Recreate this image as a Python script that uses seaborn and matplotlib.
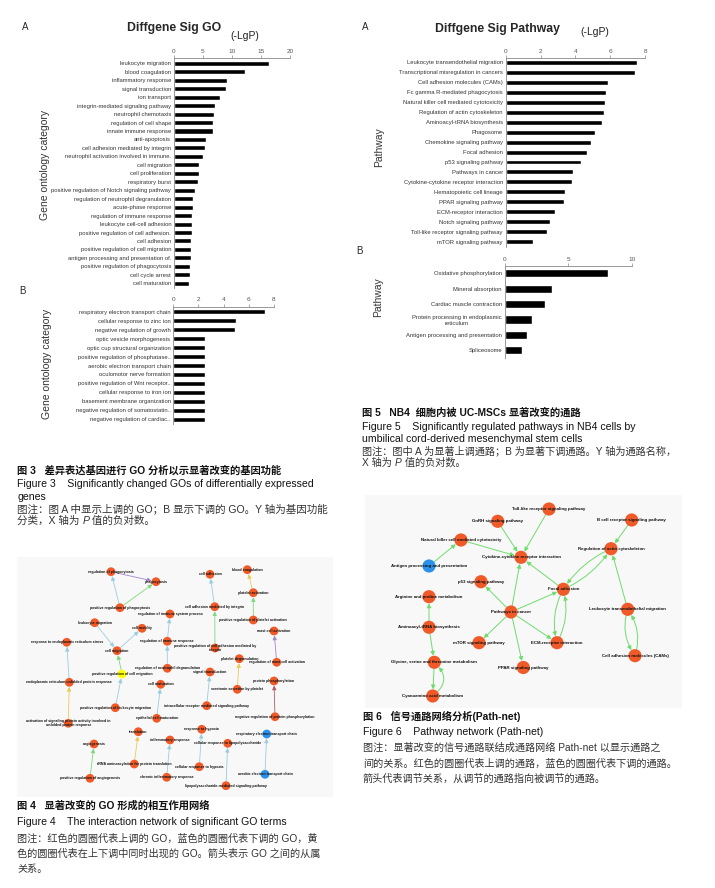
import numpy as np
import pandas as pd
import matplotlib
matplotlib.use("Agg")
import matplotlib.pyplot as plt
import seaborn as sns

# ---------------- data ----------------
go_up_terms = [
    "leukocyte migration", "blood coagulation", "inflammatory response",
    "signal transduction", "ion transport", "integrin-mediated signaling pathway",
    "neutrophil chemotaxis", "regulation of cell shape", "innate immune response",
    "anti-apoptosis", "cell adhesion mediated by integrin",
    "neutrophil activation involved in immune.", "cell migration",
    "cell proliferation", "respiratory burst",
    "positive regulation of Notch signaling pathway",
    "regulation of neutrophil degranulation", "acute-phase response",
    "regulation of immune response", "leukocyte cell-cell adhesion",
    "positive regulation of cell adhesion.", "cell adhesion",
    "positive regulation of cell migration", "antigen processing and presentation of.",
    "positive regulation of phagocytosis", "cell cycle arrest", "cell maturation",
]
go_up_vals = [16.3, 12.2, 9.2, 8.9, 8.0, 7.1, 6.9, 6.7, 6.7, 5.6, 5.3, 5.0,
              4.3, 4.3, 4.2, 3.7, 3.3, 3.3, 3.1, 3.1, 3.05, 3.0, 2.9, 2.85,
              2.8, 2.7, 2.55]
go_up_ticks = [0, 5, 10, 15, 20]

go_down_terms = [
    "respiratory electron transport chain", "cellular response to zinc ion",
    "negative regulation of growth", "optic vesicle morphogenesis",
    "optic cup structural organization", "positive regulation of phosphatase..",
    "aerobic electron transport chain", "oculomotor nerve formation",
    "positive regulation of Wnt receptor..", "cellular response to iron ion",
    "basement membrane organization", "negative regulation of somatostatin..",
    "negative regulation of cardiac..",
]
go_down_vals = [7.3, 5.0, 4.9, 2.55, 2.55, 2.55, 2.55, 2.55, 2.55, 2.55, 2.55,
                2.55, 2.55]
go_down_ticks = [0, 2, 4, 6, 8]

pw_up_terms = [
    "Leukocyte transendothelial migration", "Transcriptional misregulation in cancers",
    "Cell adhesion molecules (CAMs)", "Fc gamma R-mediated phagocytosis",
    "Natural killer cell mediated cytotoxicity", "Regulation of actin cytoskeleton",
    "Aminoacyl-tRNA biosynthesis", "Phagosome", "Chemokine signaling pathway",
    "Focal adhesion", "p53 signaling pathway", "Pathways in cancer",
    "Cytokine-cytokine receptor interaction", "Hematopoietic cell lineage",
    "PPAR signaling pathway", "ECM-receptor interaction", "Notch signaling pathway",
    "Toll-like receptor signaling pathway", "mTOR signaling pathway",
]
pw_up_vals = [7.52, 7.43, 5.9, 5.75, 5.7, 5.63, 5.55, 5.13, 4.88, 4.65, 4.34,
              3.85, 3.83, 3.43, 3.33, 2.81, 2.56, 2.39, 1.59]
pw_up_ticks = [0, 2, 4, 6, 8]

pw_down_terms = [
    "Oxidative phosphorylation", "Mineral absorption", "Cardiac muscle contraction",
    "Protein processing in endoplasmic\nreticulum",
    "Antigen processing and presentation", "Spliceosome",
]
pw_down_vals = [8.16, 3.7, 3.15, 2.18, 1.78, 1.34]
pw_down_ticks = [0, 5, 10]

# GO interaction network (Figure 4): node name, layout x, layout y, regulation
go_net_names = [
    "regulation of phagocytosis", "phagocytosis", "positive regulation of phagocytosis",
    "cell adhesion", "blood coagulation", "platelet activation",
    "cell adhesion mediated by integrin", "positive regulation of platelet activation",
    "regulation of immune system process", "leukocyte migration", "cell motility",
    "mast cell activation", "response to endoplasmic reticulum stress",
    "regulation of immune response",
    "positive regulation of cell adhesion mediated by\nintegrin",
    "cell migration", "platelet degranulation", "regulation of mast cell activation",
    "regulation of neutrophil degranulation", "positive regulation of cell migration",
    "signal transduction", "protein phosphorylation",
    "endoplasmic reticulum unfolded protein response", "cell maturation",
    "serotonin secretion by platelet",
    "intracellular receptor mediated signaling pathway",
    "positive regulation of leukocyte migration",
    "negative regulation of protein phosphorylation", "epithelial cell maturation",
    "activation of signaling protein activity involved in\nunfolded protein response",
    "translation", "response to hypoxia", "respiratory electron transport chain",
    "angiogenesis", "inflammatory response", "cellular response to lipopolysaccharide",
    "tRNA aminoacylation for protein translation", "cellular response to hypoxia",
    "aerobic electron transport chain", "positive regulation of angiogenesis",
    "chronic inflammatory response", "lipopolysaccharide-mediated signaling pathway",
]
go_net_x = [111, 156, 120, 210, 247.3, 253.3, 214.7, 253.3, 170, 94.7, 142, 274,
            66.7, 167.3, 215, 117, 239.3, 276.7, 167.3, 122, 210, 274, 69.3, 160.7,
            237.3, 206.7, 115.3, 275, 156.7, 68.3, 138.3, 201.7, 266.7, 94, 170,
            227.7, 134.3, 199.3, 265, 90, 166.7, 226]
go_net_y = [571.7, 581.7, 607.7, 574.3, 569.7, 592.7, 606.7, 620, 614, 622.7, 628.3,
            631, 642.3, 641.3, 648, 650.7, 658.7, 662.3, 668.3, 674, 672, 681, 682.3,
            684.3, 689.3, 705.7, 707.7, 716.7, 718.3, 723.3, 731.7, 729.3, 734, 744,
            740, 743.3, 764, 766.7, 774.3, 778.3, 777.3, 785.7]
go_net_reg = ["up"] * 42
go_net_reg[19] = "both"
go_net_reg[32] = "down"
go_net_reg[38] = "down"
go_net_edges = [
    (0, 1, "purple"), (2, 0, "blue"), (2, 1, "green"), (6, 3, "blue"),
    (14, 6, "green"), (5, 4, "yellow"), (7, 5, "green"), (13, 8, "blue"),
    (18, 13, "blue"), (9, 15, "blue"), (15, 10, "blue"), (19, 15, "green"),
    (26, 19, "blue"), (22, 12, "blue"), (29, 22, "yellow"), (17, 11, "purple"),
    (24, 16, "yellow"), (25, 20, "blue"), (27, 21, "maroon"), (28, 23, "blue"),
    (36, 30, "yellow"), (39, 33, "green"), (40, 34, "blue"), (37, 31, "blue"),
    (41, 35, "blue"), (38, 32, "blue"),
]

# Pathway network (Figure 6)
pw_net_names = [
    "Toll-like receptor signaling pathway", "GnRH signaling pathway",
    "B cell receptor signaling pathway", "Natural killer cell mediated cytotoxicity",
    "Regulation of actin cytoskeleton", "Cytokine-cytokine receptor interaction",
    "Antigen processing and presentation", "p53 signaling pathway", "Focal adhesion",
    "Arginine and proline metabolism", "Leukocyte transendothelial migration",
    "Pathways in cancer", "Aminoacyl-tRNA biosynthesis", "mTOR signaling pathway",
    "ECM-receptor interaction", "Cell adhesion molecules (CAMs)",
    "Glycine, serine and threonine metabolism", "PPAR signaling pathway",
    "Cyanoamino acid metabolism",
]
pw_net_x = [549, 497.7, 631.7, 461, 611, 521, 429, 481, 563.3, 429, 627.7, 511,
            429, 479, 557, 635, 434.3, 523.3, 432.7]
pw_net_y = [509, 521.3, 520, 540, 548.7, 557.3, 566, 581.7, 589.3, 596.7, 609.3,
            612, 627.3, 642.7, 642.7, 655.7, 662.3, 667.5, 696]
pw_net_reg = ["up"] * 19
pw_net_reg[6] = "down"
pw_net_edges = [
    (6, 3, 0), (3, 5, 0), (1, 5, 0), (0, 5, 0), (11, 5, 0), (8, 5, 0), (2, 4, 0),
    (8, 4, 0.15), (4, 8, 0.15), (10, 4, 0), (11, 7, 0), (11, 8, 0), (11, 13, 0),
    (11, 14, 0), (11, 17, 0), (8, 14, 0.2), (14, 8, 0.2), (10, 15, 0.25),
    (15, 10, 0.25), (12, 9, 0), (12, 16, 0), (16, 18, 0), (18, 16, 0.6),
]

# ---------------- figure ----------------
sns.set_theme(style="white")
plt.rcParams["font.family"] = ["Liberation Sans", "Noto Sans CJK SC", "DejaVu Sans"]

W, H = 715, 888
fig = plt.figure(figsize=(W / 100, H / 100), dpi=100)
fig.patch.set_facecolor("white")


def fy(y):
    return 1 - y / H


def rect(x0, y0, x1, y1):
    return [x0 / W, 1 - y1 / H, (x1 - x0) / W, (y1 - y0) / H]


NARROW = ["Liberation Sans Narrow", "Liberation Sans", "DejaVu Sans"]


def bar_panel(x0, x1, ytop, ybot, terms, vals, ticks, c0, step, width, labsize):
    ax = fig.add_axes(rect(x0, ytop, x1, ybot))
    df = pd.DataFrame({"term": terms, "val": vals})
    sns.barplot(data=df, x="val", y="term", orient="h", color="black",
                saturation=1, width=width, ax=ax)
    ax.set_facecolor("white")
    ax.set_xlim(ticks[0], ticks[-1])
    ax.set_ylim((ybot - c0) / step, (ytop - c0) / step)
    ax.set_xticks(ticks)
    ax.set_xticklabels([str(t) for t in ticks])
    ax.set_yticks(range(len(terms)))
    ax.set_yticklabels(terms, fontsize=labsize, fontfamily=NARROW, color="#333",
                       linespacing=1.35)
    for lab in ax.get_yticklabels():
        lab.set_multialignment("center")
    ax.set_xlabel("")
    ax.set_ylabel("")
    ax.tick_params(axis="x", top=True, bottom=False, labeltop=True,
                   labelbottom=False, direction="out", length=2, width=0.5,
                   pad=1.2, labelsize=4.6, labelcolor="#555", color="#888")
    ax.tick_params(axis="y", left=False, length=0, pad=2)
    for s in ["right", "bottom"]:
        ax.spines[s].set_visible(False)
    for s in ["top", "left"]:
        ax.spines[s].set_visible(True)
        ax.spines[s].set_color("#888")
        ax.spines[s].set_linewidth(0.6)
    ax.grid(False)
    return ax


# Figure 3 A / B
bar_panel(174, 290, 58.3, 288, go_up_terms, go_up_vals, go_up_ticks,
          63.3, 8.46, 0.6, 4.2)
bar_panel(173.3, 274, 306.7, 424, go_down_terms, go_down_vals, go_down_ticks,
          311.7, 8.97, 0.6, 4.2)
# Figure 5 A / B
bar_panel(505.7, 645, 58.3, 247, pw_up_terms, pw_up_vals, pw_up_ticks,
          62.3, 9.97, 0.5, 4.2)
bar_panel(504.7, 631.7, 266, 358, pw_down_terms, pw_down_vals, pw_down_ticks,
          273.3, 15.4, 0.52, 4.2)


def T(x, y, s, **kw):
    kw.setdefault("va", "center")
    return fig.text(x / W, fy(y), s, **kw)


# chart titles / labels
T(25, 27, "A", fontsize=7, ha="center")
T(174, 28.3, "Diffgene Sig GO", fontsize=8.8, fontweight="bold", ha="center")
T(245, 36, "(-LgP)", fontsize=7.5, ha="center", color="#222")
T(45, 165, "Gene ontology category", fontsize=7.5, rotation=90, ha="center",
  color="#333")
T(22, 291, "B", fontsize=7, ha="center")
T(46.7, 363.5, "Gene ontology category", fontsize=7.5, rotation=90, ha="center",
  color="#333")

T(365, 27.3, "A", fontsize=7, ha="center")
T(497, 29.3, "Diffgene Sig Pathway", fontsize=8.8, fontweight="bold", ha="center")
T(595, 31.7, "(-LgP)", fontsize=7.5, ha="center", color="#222")
T(379, 147.5, "Pathway", fontsize=7.5, rotation=90, ha="center", color="#333")
T(359, 251, "B", fontsize=7, ha="center")
T(378, 297, "Pathway", fontsize=7.5, rotation=90, ha="center", color="#333")


# ---------------- networks ----------------
NODE_COL = {"up": "#f05a28", "down": "#2c8fe8", "both": "#ffff00"}
EDGE_COL = {"blue": "#9ccddc", "green": "#7ed87e", "purple": "#a486c8",
            "yellow": "#e6cc58", "maroon": "#b05a66"}


def net_panel(x0, y0, x1, y1, names, xs, ys, regs, node_s, fsize):
    ax = fig.add_axes(rect(x0, y0, x1, y1))
    ax.set_facecolor("#f8f8f8")
    for s in ax.spines.values():
        s.set_visible(False)
    sns.scatterplot(x=xs, y=ys, hue=regs, palette=NODE_COL, s=node_s,
                    linewidth=0, legend=False, ax=ax, zorder=3)
    ax.set_xlim(x0, x1)
    ax.set_ylim(y1, y0)
    ax.set_xticks([])
    ax.set_yticks([])
    ax.set_xlabel("")
    ax.set_ylabel("")
    for n, x, y in zip(names, xs, ys):
        ax.text(x, y, n, ha="center", va="center", fontsize=fsize,
                fontweight="bold", color="#111", linespacing=1.0, zorder=4,
                fontfamily=["Liberation Sans", "DejaVu Sans"])
    return ax


ax4 = net_panel(17, 557, 333, 797, go_net_names, go_net_x, go_net_y, go_net_reg,
                40, 2.6)
for a, b, c in go_net_edges:
    ax4.annotate("", xy=(go_net_x[b], go_net_y[b]), xytext=(go_net_x[a], go_net_y[a]),
                 arrowprops=dict(arrowstyle="-|>,head_length=0.6,head_width=0.3",
                                 color=EDGE_COL[c], lw=0.6, shrinkA=3.3,
                                 shrinkB=3.3, mutation_scale=4), zorder=2)

ax6 = net_panel(365, 495, 682, 708, pw_net_names, pw_net_x, pw_net_y, pw_net_reg,
                90, 3.2)
for a, b, r in pw_net_edges:
    ax6.annotate("", xy=(pw_net_x[b], pw_net_y[b]), xytext=(pw_net_x[a], pw_net_y[a]),
                 arrowprops=dict(arrowstyle="-|>,head_length=0.6,head_width=0.3",
                                 color="#6edc6e", lw=0.7, shrinkA=4.8, shrinkB=4.8,
                                 mutation_scale=4,
                                 connectionstyle=f"arc3,rad={r}"), zorder=2)

# ---------------- captions ----------------
renderer = fig.canvas.get_renderer()
CAP_FAM = ["Liberation Sans", "Noto Sans CJK SC", "DejaVu Sans"]


def rich(x, y, parts, **kw):
    cur = x
    for s, style in parts:
        t = T(cur, y, s, style=style, fontfamily=CAP_FAM, **kw)
        cur += t.get_window_extent(renderer).width


def cap_title(x, y, s):
    T(x, y, s, fontsize=7.4, fontweight="bold", fontfamily=CAP_FAM, color="#111")


def cap_en(x, y, s):
    T(x, y, s, fontsize=7.6, fontfamily=CAP_FAM, color="#111")


def cap_note(x, y, s, size=7.3):
    T(x, y, s, fontsize=size, fontfamily=CAP_FAM, color="#333")


cap_title(17, 470.7, "图 3   差异表达基因进行 GO 分析以示显著改变的基因功能")
cap_en(17, 484, "Figure 3    Significantly changed GOs of differentially expressed")
cap_en(17, 497, "genes")
cap_note(17, 509, "图注：图 A 中显示上调的 GO；B 显示下调的 GO。Y 轴为基因功能", 7.6)
rich(17, 521, [("分类，X 轴为 ", "normal"), ("P", "italic"), (" 值的负对数。", "normal")],
     fontsize=7.6, color="#333")

cap_title(362, 412.7, "图 5   NB4  细胞内被 UC-MSCs 显著改变的通路")
cap_en(362, 427, "Figure 5    Significantly regulated pathways in NB4 cells by")
cap_en(362, 439.3, "umbilical cord-derived mesenchymal stem cells")
cap_note(362, 451, "图注：图中 A 为显著上调通路；B 为显著下调通路。Y 轴为通路名称，")
rich(362, 463, [("X 轴为 ", "normal"), ("P", "italic"), (" 值的负对数。", "normal")],
     fontsize=7.3, color="#333")

cap_title(17, 805.7, "图 4   显著改变的 GO 形成的相互作用网络")
cap_en(17, 822, "Figure 4    The interaction network of significant GO terms")
cap_note(17, 839, "图注：红色的圆圈代表上调的 GO，蓝色的圆圈代表下调的 GO，黄")
cap_note(17, 854, "色的圆圈代表在上下调中同时出现的 GO。箭头表示 GO 之间的从属")
cap_note(17, 869, "关系。")

cap_title(363, 716.7, "图 6   信号通路网络分析(Path-net)")
cap_en(363, 731.7, "Figure 6    Pathway network (Path-net)")
cap_note(363, 748, "图注：显著改变的信号通路联结成通路网络 Path-net 以显示通路之")
cap_note(363, 764, "间的关系。红色的圆圈代表上调的通路，蓝色的圆圈代表下调的通路。")
cap_note(363, 779, "箭头代表调节关系，从调节的通路指向被调节的通路。")

fig.savefig("out.png", dpi=100)
